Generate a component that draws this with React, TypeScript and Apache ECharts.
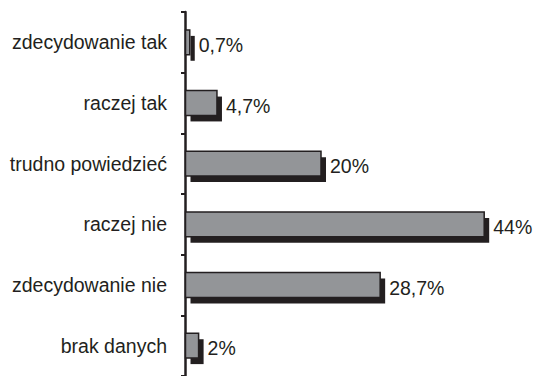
import React, { useEffect, useRef } from "react";
import * as echarts from "echarts";

const categories = [
  "zdecydowanie tak",
  "raczej tak",
  "trudno powiedzieć",
  "raczej nie",
  "zdecydowanie nie",
  "brak danych",
];
const values = [0.7, 4.7, 20, 44, 28.7, 2];
const valueLabels = ["0,7%", "4,7%", "20%", "44%", "28,7%", "2%"];

const FONT = "Liberation Sans, Arial, Helvetica, sans-serif";
const INK = "#231f20";

export default function App() {
  const ref = useRef<HTMLDivElement>(null);
  useEffect(() => {
    if (!ref.current) return;
    const chart = echarts.init(ref.current, null, { renderer: "svg" });
    chart.setOption({
      animation: false,
      backgroundColor: "#ffffff",
      grid: { left: 185, top: 12, height: 368, right: 8 },
      xAxis: {
        type: "value",
        min: 0,
        max: 50,
        show: false,
      },
      yAxis: {
        type: "category",
        data: categories,
        inverse: true,
        axisLine: { show: true, lineStyle: { color: INK, width: 2.5 } },
        axisTick: { show: true, length: 4, lineStyle: { color: INK, width: 2 } },
        axisLabel: {
          margin: 18,
          color: INK,
          fontSize: 19.5,
          fontFamily: FONT,
        },
        splitLine: { show: false },
      },
      series: [
        {
          type: "custom",
          data: values.map((v, i) => [v, i]),
          encode: { x: 0, y: 1 },
          renderItem: (params: any, api: any) => {
            const v = api.value(0);
            const idx = api.value(1);
            const i = params.dataIndex;
            const start = api.coord([0, idx]);
            const end = api.coord([v, idx]);
            const band = api.size([0, 1])[1];
            const h = band * 0.41;
            const off = 6;
            const x0 = start[0] + 0.5;
            const w = Math.max(end[0] - x0, 2);
            const y0 = start[1] - h / 2;
            return {
              type: "group",
              children: [
                {
                  type: "rect",
                  shape: { x: x0 + off - 1, y: y0 + off, width: w, height: h },
                  style: { fill: INK },
                },
                {
                  type: "rect",
                  shape: { x: x0, y: y0, width: w, height: h },
                  style: { fill: "#939598", stroke: INK, lineWidth: 1.5 },
                },
                {
                  type: "text",
                  style: {
                    text: valueLabels[i],
                    x: end[0] + off + 3,
                    y: start[1] + 2.5,
                    verticalAlign: "middle",
                    align: "left",
                    fill: INK,
                    fontSize: 19.5,
                    fontFamily: FONT,
                  },
                },
              ],
            };
          },
        },
      ],
    });
    return () => chart.dispose();
  }, []);
  return <div ref={ref} style={{ width: 533, height: 376, position: "fixed", left: 0, top: 0 }} />;
}
